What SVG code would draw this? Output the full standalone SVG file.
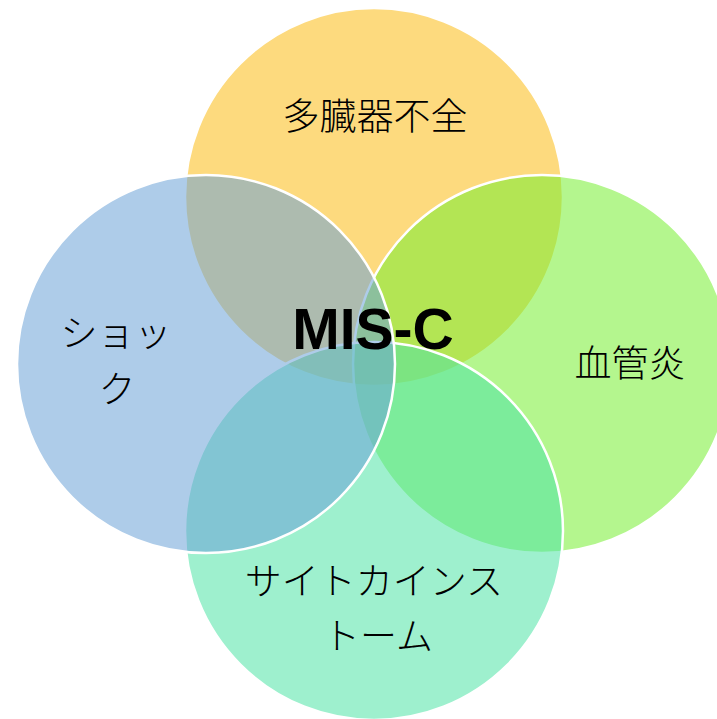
<svg xmlns="http://www.w3.org/2000/svg" width="717" height="719" viewBox="0 0 717 719">
<style>
.c{stroke:#fff;stroke-width:2.5;fill-opacity:0.55}
.t{font-family:"Noto Sans CJK JP","Noto Sans",sans-serif;font-size:37px;font-weight:300;fill:#000;text-anchor:middle}
.m{font-family:"Liberation Sans",Arial,sans-serif;font-weight:bold;font-size:57px;fill:#000;text-anchor:middle}
</style>
<rect width="717" height="719" fill="#fff"/>
<g id="node-top"><circle class="c" cx="374" cy="197" r="189" fill="#FBBC14"/></g>
<g id="node-right"><circle class="c" cx="542" cy="364" r="189" fill="#77EF32"/></g>
<g id="node-bottom"><circle class="c" cx="374" cy="531" r="189" fill="#4FE4A6"/></g>
<g id="node-left"><circle class="c" cx="206" cy="364" r="189" fill="#6CA2D7"/></g>
<g id="labels">
<text class="t" x="375" y="130">多臓器不全</text>
<text class="t" x="116" y="347">ショッ</text>
<text class="t" x="117" y="403">ク</text>
<text class="t" x="630" y="377">血管炎</text>
<text class="t" x="374" y="595">サイトカインス</text>
<text class="t" x="378" y="650">トーム</text>
</g>
<g id="node-center"><text class="m" x="373" y="349">MIS-C</text></g>
</svg>
